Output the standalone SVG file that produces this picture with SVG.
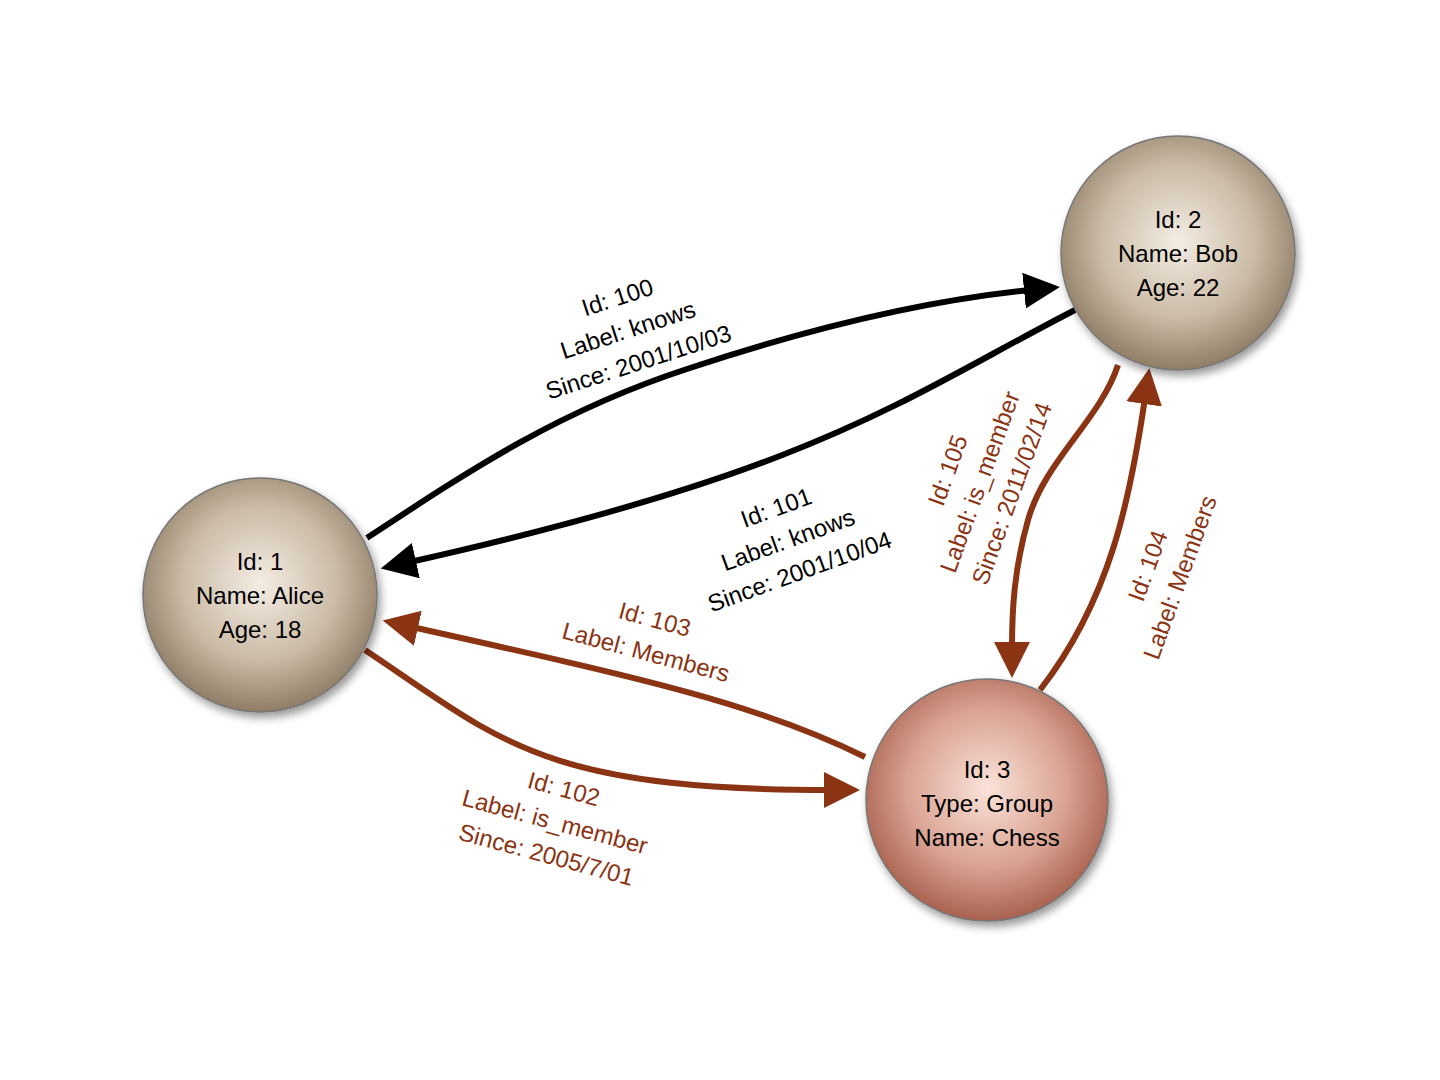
<svg xmlns="http://www.w3.org/2000/svg" width="1440" height="1080" viewBox="0 0 1440 1080">
<defs>
<radialGradient id="gt" cx="50%" cy="45%" r="55%"><stop offset="0" stop-color="#f4ede4"/><stop offset="0.6" stop-color="#cbbba6"/><stop offset="1" stop-color="#8f7d66"/></radialGradient>
<radialGradient id="gr" cx="50%" cy="45%" r="55%"><stop offset="0" stop-color="#fbe3da"/><stop offset="0.6" stop-color="#d9a292"/><stop offset="1" stop-color="#a9614f"/></radialGradient>
<filter id="sh" x="-20%" y="-20%" width="150%" height="150%"><feDropShadow dx="3" dy="5" stdDeviation="4" flood-opacity="0.4"/></filter>
<marker id="ab" markerWidth="6" markerHeight="6" refX="1" refY="3" orient="auto" markerUnits="strokeWidth"><path d="M0,0 L6,3 L0,6 z" fill="#000"/></marker>
<marker id="ar" markerWidth="6" markerHeight="6" refX="1" refY="3" orient="auto" markerUnits="strokeWidth"><path d="M0,0 L6,3 L0,6 z" fill="#8b3414"/></marker>
</defs>
<style>
text{font-family:"Liberation Sans",Arial,sans-serif;font-size:24px;text-anchor:middle}
.b{stroke:#000;stroke-width:6;fill:none}
.r{stroke:#8b3414;stroke-width:6;fill:none}
.lb{fill:#000}
.lr{fill:#8b3414}
.c{stroke:#777;stroke-width:1.5}
</style>
<rect width="1440" height="1080" fill="#fff"/>
<g id="connectors">
<path class="b" d="M367,538 C470,470 560,410 690,368 C820,325 930,300 1030,290" marker-end="url(#ab)"/>
<path class="b" d="M1075,310 C900,400 820,470 410,562" marker-end="url(#ab)"/>
<path class="r" d="M865,757 C760,705 650,680 412,627" marker-end="url(#ar)"/>
<path class="r" d="M365,650 C500,740 540,790 830,790" marker-end="url(#ar)"/>
<path class="r" d="M1118,365 C1100,420 1045,460 1028,520 C1014,570 1012,610 1012,648" marker-end="url(#ar)"/>
<path class="r" d="M1040,690 C1110,600 1130,500 1145,398" marker-end="url(#ar)"/>
</g>
<g id="alice"><circle class="c" cx="260" cy="595" r="117" fill="url(#gt)" filter="url(#sh)"/>
<text x="260" y="570">Id: 1</text><text x="260" y="604">Name: Alice</text><text x="260" y="638">Age: 18</text></g>
<g id="bob"><circle class="c" cx="1178" cy="253" r="117" fill="url(#gt)" filter="url(#sh)"/>
<text x="1178" y="228">Id: 2</text><text x="1178" y="262">Name: Bob</text><text x="1178" y="296">Age: 22</text></g>
<g id="chess"><circle class="c" cx="987" cy="800" r="121" fill="url(#gr)" filter="url(#sh)"/>
<text x="987" y="778">Id: 3</text><text x="987" y="812">Type: Group</text><text x="987" y="846">Name: Chess</text></g>
<g id="labels">
<g transform="translate(628,330) rotate(-18)" class="lb"><text y="-26">Id: 100</text><text y="8">Label: knows</text><text y="42">Since: 2001/10/03</text></g>
<g transform="translate(788,540) rotate(-20)" class="lb"><text y="-26">Id: 101</text><text y="8">Label: knows</text><text y="42">Since: 2001/10/04</text></g>
<g transform="translate(650,637) rotate(15)" class="lr"><text y="-10">Id: 103</text><text y="24">Label: Members</text></g>
<g transform="translate(555,822) rotate(15)" class="lr"><text y="-26">Id: 102</text><text y="8">Label: is_member</text><text y="42">Since: 2005/7/01</text></g>
<g transform="translate(980,482) rotate(-70)" class="lr"><text y="-26">Id: 105</text><text y="8">Label: is_member</text><text y="42">Since: 2011/02/14</text></g>
<g transform="translate(1165,572) rotate(-70)" class="lr"><text y="-10">Id: 104</text><text y="24">Label: Members</text></g>
</g>
</svg>
